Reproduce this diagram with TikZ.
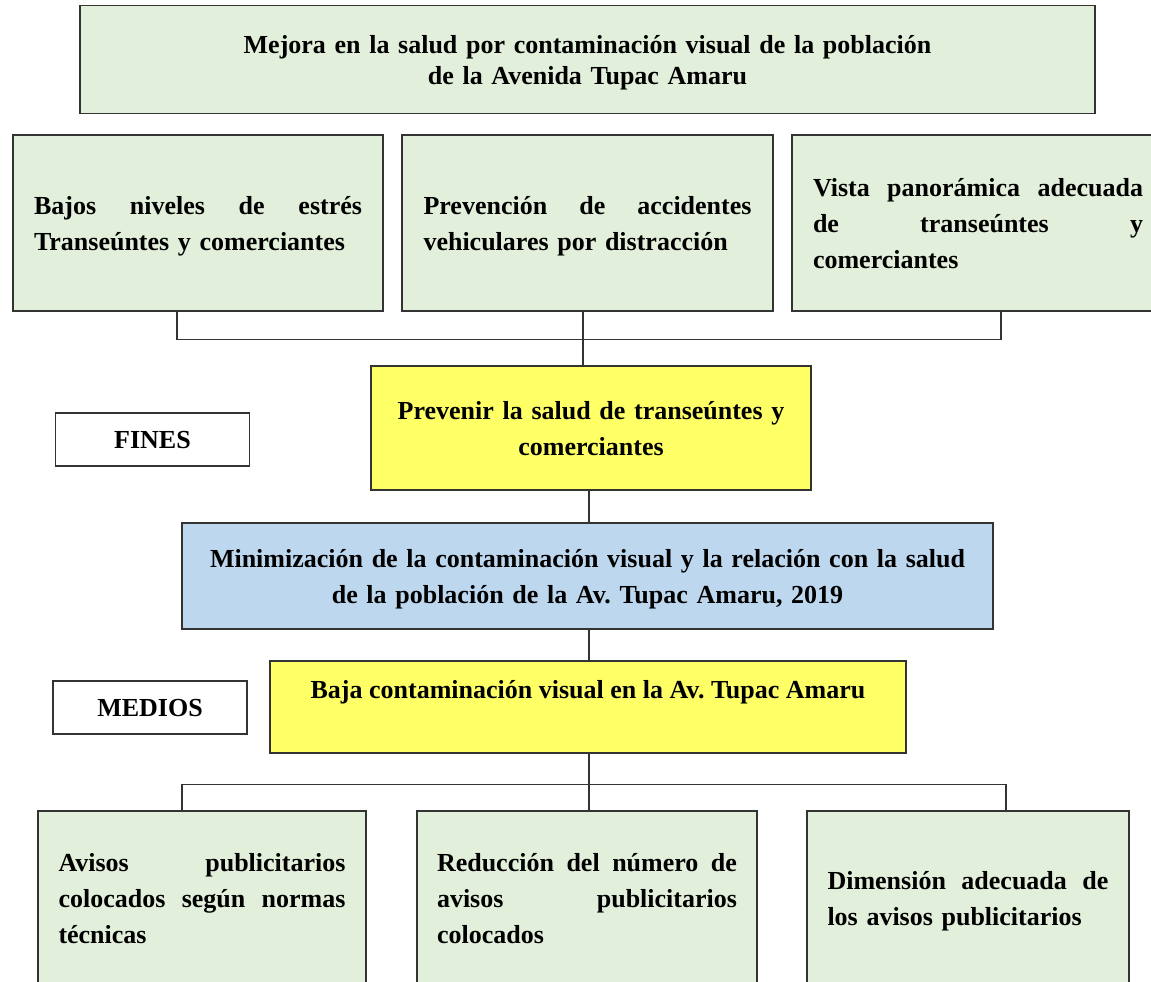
\documentclass[tikz,border=0pt]{standalone}
\usepackage{fontspec}
\setmainfont{Liberation Serif}
\definecolor{boxgreen}{HTML}{E2EFDA}
\definecolor{boxyellow}{HTML}{FFFF66}
\definecolor{boxblue}{HTML}{BDD7EE}
\definecolor{edgegray}{HTML}{333333}

\begin{document}
\begin{tikzpicture}[x=0.5pt,y=-0.5pt,semithick]
  \tikzstyle{box}=[rectangle,draw=edgegray,text=black,inner sep=0pt,font=\fontsize{13}{18}\selectfont\bfseries\frenchspacing,
                   execute at begin node=\rule{0pt}{14.4pt},execute at end node=\strut]
  \tikzstyle{greenbox}=[box,fill=boxgreen,align=left,minimum height=88pt]
  \tikzstyle{yellowbox}=[box,fill=boxyellow,align=center]
  \tikzstyle{tagbox}=[box,fill=white,minimum width=97pt,minimum height=26.5pt]

  \useasboundingbox (0,0) rectangle (1151,981);

  \node[box,fill=boxgreen,align=center,text width=420pt,minimum width=507.5pt,minimum height=54pt,
        font=\fontsize{13}{15.5}\selectfont\bfseries\frenchspacing] (M) at (587.5,59.5)
        {Mejora en la salud por contaminación visual de la población\\ de la Avenida Tupac Amaru};

  \node[greenbox,text width=164pt,minimum width=185pt]   (F1) at (198,223)
        {Bajos\hfill niveles\hfill de\hfill estrés\\ Transeúntes y comerciantes};
  \node[greenbox,text width=164pt,minimum width=185.5pt] (F2) at (587.5,223)
        {Prevención\hfill de\hfill accidentes\\ vehiculares por distracción};
  \node[greenbox,text width=165pt,minimum width=186pt]   (F3) at (978,223)
        {Vista\hfill panorámica\hfill adecuada\\ de\hfill transeúntes\hfill y\\ comerciantes};

  \node[yellowbox,text width=210pt,minimum width=220pt,minimum height=62pt] (P) at (591,428)
        {Prevenir la salud de transeúntes y\\ comerciantes};
  \node[tagbox] (FI) at (152.5,439.5) {FINES};

  \node[box,fill=boxblue,align=center,text width=400pt,minimum width=405.5pt,minimum height=53pt] (O) at (587.5,576)
        {Minimización de la contaminación visual y la relación con la salud\\ de la población de la Av. Tupac Amaru, 2019};

  \node[tagbox] (ME) at (150,707.5) {MEDIOS};
  \node[yellowbox,minimum width=318pt,text height=18.5pt,text depth=27.5pt] (B) at (588,707)
        {Baja contaminación visual en la Av. Tupac Amaru};

  \node[greenbox,text width=143.5pt,minimum width=164pt,minimum height=87.5pt] (D1) at (202,898.5)
        {Avisos\hfill publicitarios\\ colocados\hfill según\hfill normas\\ técnicas};
  \node[greenbox,text width=150pt,minimum width=170pt,minimum height=87.5pt]   (D2) at (587,898.5)
        {Reducción\hfill del\hfill número\hfill de\\ avisos\hfill publicitarios\\ colocados};
  \node[greenbox,text width=140.5pt,minimum width=161pt,minimum height=87.5pt] (D3) at (968,898.5)
        {Dimensión\hfill adecuada\hfill de\\ los avisos publicitarios};

  % fines
  \draw[edgegray] ([xshift=-10.5pt]F1.south) -- ++(0,28) -| ([xshift=11.5pt]F3.south);
  \coordinate (t1) at ([xshift=-2.25pt]F2.south);
  \draw[edgegray] (t1) -- (t1 |- P.north);
  \coordinate (t2) at ([xshift=-1pt]P.south);
  \draw[edgegray] (t2) -- (t2 |- O.north);

  % medios
  \coordinate (t3) at ([xshift=0.75pt]O.south);
  \draw[edgegray] (t3) -- (t3 |- B.north);
  \coordinate (t4) at ([xshift=0.5pt]B.south);
  \draw[edgegray] (t4) -- (t4 |- D2.north);
  \draw[edgegray] ([xshift=-10pt]D1.north) -- ++(0,-26) -| ([xshift=19pt]D3.north);
\end{tikzpicture}
\end{document}
